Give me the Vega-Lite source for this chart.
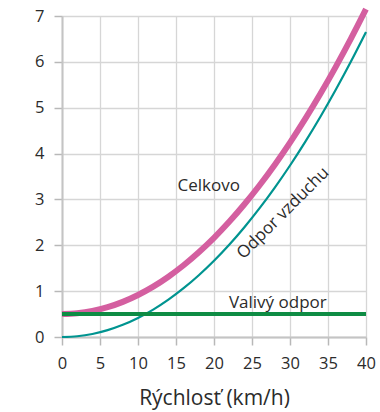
{
  "$schema": "https://vega.github.io/schema/vega-lite/v6.json",
  "width": 304,
  "height": 321,
  "autosize": {"type": "none"},
  "padding": {"left": 62, "top": 16, "right": 14, "bottom": 75},
  "config": {
    "font": "Open Sans",
    "view": {"stroke": null},
    "axis": {
      "domainColor": "#c4c4c4",
      "domainWidth": 2,
      "tickColor": "#b8b8b8",
      "tickWidth": 1.5,
      "tickSize": 8,
      "gridColor": "#d6d6d6",
      "gridWidth": 1.3,
      "labelColor": "#2b2b2b",
      "labelFontSize": 16.5,
      "titleColor": "#2b2b2b",
      "titleFontWeight": "normal"
    }
  },
  "datasets": {
    "curves": [
      {"v": 0, "air": 0, "total": 0.5, "roll": 0.5},
      {"v": 2, "air": 0.017, "total": 0.517, "roll": 0.5},
      {"v": 4, "air": 0.066, "total": 0.566, "roll": 0.5},
      {"v": 6, "air": 0.15, "total": 0.65, "roll": 0.5},
      {"v": 8, "air": 0.266, "total": 0.766, "roll": 0.5},
      {"v": 10, "air": 0.416, "total": 0.916, "roll": 0.5},
      {"v": 12, "air": 0.598, "total": 1.098, "roll": 0.5},
      {"v": 14, "air": 0.815, "total": 1.315, "roll": 0.5},
      {"v": 16, "air": 1.064, "total": 1.564, "roll": 0.5},
      {"v": 18, "air": 1.347, "total": 1.847, "roll": 0.5},
      {"v": 20, "air": 1.662, "total": 2.162, "roll": 0.5},
      {"v": 22, "air": 2.011, "total": 2.511, "roll": 0.5},
      {"v": 24, "air": 2.394, "total": 2.894, "roll": 0.5},
      {"v": 26, "air": 2.809, "total": 3.309, "roll": 0.5},
      {"v": 28, "air": 3.258, "total": 3.758, "roll": 0.5},
      {"v": 30, "air": 3.74, "total": 4.24, "roll": 0.5},
      {"v": 32, "air": 4.256, "total": 4.756, "roll": 0.5},
      {"v": 34, "air": 4.804, "total": 5.304, "roll": 0.5},
      {"v": 36, "air": 5.386, "total": 5.886, "roll": 0.5},
      {"v": 38, "air": 6.001, "total": 6.501, "roll": 0.5},
      {"v": 40, "air": 6.65, "total": 7.15, "roll": 0.5}
    ],
    "labels": [
      {"v": 19.3, "y": 3.29, "text": "Celkovo", "angle": 0},
      {"v": 29.1, "y": 2.7, "text": "Odpor vzduchu", "angle": -45},
      {"v": 28.4, "y": 0.75, "text": "Valivý odpor", "angle": 0}
    ]
  },
  "encoding": {
    "x": {
      "type": "quantitative",
      "scale": {"domain": [0, 40], "nice": false, "zero": false},
      "axis": {"values": [0, 5, 10, 15, 20, 25, 30, 35, 40], "title": "Rýchlosť (km/h)", "titleFontSize": 21, "titlePadding": 16, "labelPadding": 10, "labelFlush": false}
    }
  },
  "layer": [
    {
      "data": {"name": "curves"},
      "mark": {"type": "line", "color": "#d45fa0", "strokeWidth": 6, "interpolate": "monotone", "clip": false},
      "encoding": {
        "x": {"field": "v", "type": "quantitative"},
        "y": {
          "field": "total",
          "type": "quantitative",
          "scale": {"domain": [0, 7], "nice": false},
          "axis": {"values": [0, 1, 2, 3, 4, 5, 6, 7], "title": null, "labelPadding": 10, "labelFlush": false}
        }
      }
    },
    {
      "data": {"name": "curves"},
      "mark": {"type": "line", "color": "#009490", "strokeWidth": 2.2, "interpolate": "monotone"},
      "encoding": {
        "x": {"field": "v", "type": "quantitative"},
        "y": {"field": "air", "type": "quantitative"}
      }
    },
    {
      "data": {"name": "curves"},
      "mark": {"type": "line", "color": "#0e8c44", "strokeWidth": 4},
      "encoding": {
        "x": {"field": "v", "type": "quantitative"},
        "y": {"field": "roll", "type": "quantitative"}
      }
    },
    {
      "data": {"name": "labels"},
      "mark": {"type": "text", "fontSize": 17, "color": "#2b2b2b", "align": "center", "baseline": "middle"},
      "encoding": {
        "x": {"field": "v", "type": "quantitative"},
        "y": {"field": "y", "type": "quantitative"},
        "text": {"field": "text"},
        "angle": {"field": "angle", "type": "quantitative", "scale": null}
      }
    }
  ]
}
